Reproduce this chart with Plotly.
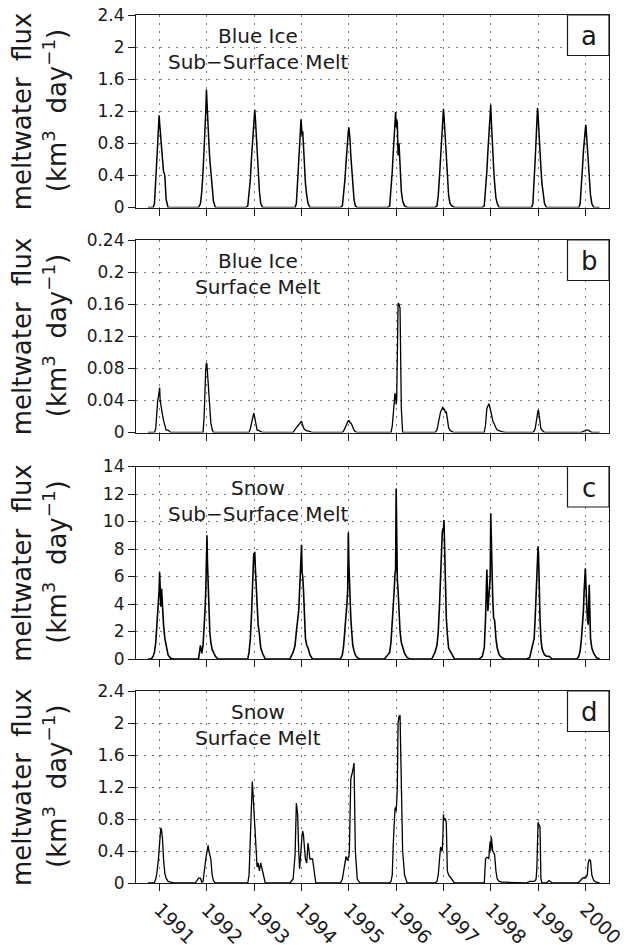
import plotly.graph_objects as go
from plotly.subplots import make_subplots

# ---------------- data ----------------
years = [1991, 1992, 1993, 1994, 1995, 1996, 1997, 1998, 1999, 2000]
year_labels = ["1991", "1992", "1993", "1994", "1995", "1996", "1997", "1998", "1999", "2000"]
# day offsets relative to 1 January of each melt season's year
day_offsets = [-90, -65, -50, -40, -30, -22, -15, -9, -4, 0, 4, 9, 15, 22, 30, 40, 50, 65, 85, 110]

blue_ice_subsurface = [
    [0, 0, 0, 0.05, 0.3, 0.55, 0.8, 1.0, 1.15, 1.05, 0.95, 0.8, 0.65, 0.6, 0.45, 0.4, 0.1, 0, 0, 0],
    [0, 0, 0.05, 0.2, 0.45, 0.7, 0.95, 1.2, 1.47, 1.3, 1.1, 1.0, 0.8, 0.6, 0.45, 0.25, 0.08, 0, 0, 0],
    [0, 0, 0.02, 0.15, 0.35, 0.6, 0.8, 1.0, 1.1, 1.15, 1.22, 1.1, 0.9, 0.65, 0.4, 0.2, 0.05, 0, 0, 0],
    [0, 0, 0, 0.05, 0.3, 0.55, 0.8, 0.95, 1.1, 1.0, 0.9, 0.95, 0.7, 0.5, 0.3, 0.15, 0.05, 0, 0, 0],
    [0, 0, 0.02, 0.15, 0.35, 0.55, 0.75, 0.88, 0.95, 1.0, 0.95, 0.85, 0.65, 0.45, 0.25, 0.1, 0.02, 0, 0, 0],
    [0, 0, 0.02, 0.2, 0.45, 0.7, 0.9, 1.05, 1.19, 1.0, 1.1, 1.05, 0.65, 0.8, 0.45, 0.2, 0.08, 0.02, 0, 0],
    [0, 0, 0.02, 0.15, 0.4, 0.65, 0.9, 1.1, 1.2, 1.23, 1.15, 1.0, 0.8, 0.55, 0.35, 0.15, 0.05, 0.02, 0, 0],
    [0, 0, 0.02, 0.2, 0.45, 0.7, 0.9, 1.05, 1.15, 1.28, 1.1, 0.9, 0.7, 0.5, 0.3, 0.12, 0.05, 0, 0, 0],
    [0, 0, 0, 0.05, 0.3, 0.6, 0.85, 1.05, 1.24, 1.15, 1.0, 0.9, 0.7, 0.5, 0.3, 0.15, 0.05, 0, 0, 0],
    [0, 0, 0, 0.05, 0.25, 0.5, 0.7, 0.85, 0.95, 0.98, 1.03, 0.9, 0.7, 0.5, 0.3, 0.15, 0.05, 0, 0, 0],
]

blue_ice_surface = [
    [0, 0, 0, 0, 0.005, 0.03, 0.04, 0.045, 0.05, 0.056, 0.04, 0.033, 0.03, 0.022, 0.015, 0.008, 0.003, 0.003, 0, 0],
    [0, 0, 0, 0, 0, 0.02, 0.06, 0.08, 0.087, 0.085, 0.075, 0.06, 0.045, 0.028, 0.012, 0.004, 0, 0, 0, 0],
    [0, 0, 0, 0, 0.005, 0.012, 0.018, 0.022, 0.024, 0.022, 0.018, 0.012, 0.006, 0.003, 0.003, 0.002, 0.002, 0, 0, 0],
    [0, 0, 0.004, 0.006, 0.007, 0.009, 0.01, 0.012, 0.013, 0.014, 0.012, 0.008, 0.006, 0.004, 0.003, 0.002, 0.002, 0.001, 0, 0],
    [0, 0, 0, 0.002, 0.006, 0.01, 0.012, 0.013, 0.015, 0.014, 0.015, 0.012, 0.012, 0.01, 0.006, 0.003, 0.001, 0, 0, 0],
    [0, 0, 0, 0, 0.008, 0.025, 0.04, 0.049, 0.045, 0.035, 0.04, 0.1, 0.161, 0.16, 0.155, 0.03, 0, 0, 0, 0],
    [0, 0, 0.003, 0.012, 0.022, 0.026, 0.028, 0.03, 0.032, 0.028, 0.03, 0.028, 0.025, 0.026, 0.015, 0.006, 0.003, 0.001, 0, 0],
    [0, 0, 0, 0.01, 0.03, 0.033, 0.036, 0.033, 0.03, 0.028, 0.026, 0.02, 0.015, 0.012, 0.008, 0.006, 0.003, 0.002, 0.001, 0],
    [0, 0, 0, 0, 0.002, 0.005, 0.012, 0.02, 0.026, 0.028, 0.027, 0.02, 0.01, 0.005, 0.003, 0.001, 0, 0, 0, 0],
    [0, 0, 0, 0, 0, 0.001, 0.001, 0.002, 0.002, 0.002, 0.003, 0.003, 0.003, 0.003, 0.002, 0.001, 0, 0, 0, 0],
]

snow_subsurface = [
    [0, 0, 0.2, 0.5, 1.2, 2.3, 3.2, 4.2, 5.0, 6.3, 4.5, 3.8, 5.1, 3.5, 2.5, 1.5, 0.9, 0.3, 0.05, 0],
    [0, 0, 1.0, 0.4, 1.0, 2.0, 3.5, 5.0, 7.0, 9.0, 7.0, 5.5, 3.5, 2.0, 1.2, 0.7, 0.5, 0.2, 0, 0],
    [0, 0, 0, 0.5, 1.5, 3.0, 5.0, 7.0, 7.7, 7.5, 7.8, 6.5, 5.0, 3.5, 2.5, 1.8, 0.8, 0.4, 0, 0],
    [0, 0.5, 1.0, 2.0, 3.0, 3.5, 5.0, 6.2, 6.5, 8.3, 6.3, 6.0, 5.0, 3.0, 1.5, 1.0, 0.8, 0.3, 0, 0],
    [0, 0, 0.3, 1.0, 2.2, 3.0, 4.0, 5.0, 9.2, 7.0, 5.5, 5.0, 3.0, 2.0, 1.0, 0.6, 0.3, 0.1, 0, 0],
    [0, 0.3, 0.5, 1.2, 2.5, 3.5, 5.0, 6.2, 6.5, 12.4, 6.5, 5.8, 5.0, 3.0, 2.0, 1.2, 0.9, 0.4, 0.1, 0],
    [0, 0.5, 1.0, 2.0, 4.0, 6.5, 8.5, 9.2, 9.5, 9.3, 10.1, 8.0, 5.0, 3.0, 1.8, 0.8, 0.6, 0.3, 0, 0],
    [0, 0.2, 0.8, 3.0, 6.5, 3.5, 4.5, 5.0, 6.0, 10.6, 8.6, 6.0, 4.5, 3.0, 2.8, 1.5, 0.8, 0.3, 0.1, 0],
    [0, 0.1, 0.8, 1.0, 1.5, 3.0, 4.5, 6.5, 7.0, 8.2, 7.5, 5.0, 3.0, 1.5, 0.8, 0.5, 0.3, 0.2, 0.2, 0],
    [0, 0, 0.2, 0.6, 1.5, 2.5, 3.5, 5.0, 6.0, 6.6, 5.5, 4.0, 3.0, 2.5, 5.4, 1.5, 0.8, 0.4, 0.1, 0],
]

snow_surface = [
    [0, 0, 0, 0.01, 0.05, 0.12, 0.2, 0.3, 0.42, 0.55, 0.62, 0.69, 0.66, 0.55, 0.3, 0.12, 0.06, 0.02, 0.01, 0],
    [0, 0.06, 0.06, 0.01, 0.02, 0.15, 0.28, 0.3, 0.35, 0.4, 0.44, 0.47, 0.4, 0.35, 0.3, 0.1, 0.03, 0, 0, 0],
    [0, 0, 0, 0.1, 0.5, 0.9, 1.27, 1.1, 0.95, 0.85, 0.65, 0.45, 0.35, 0.2, 0.25, 0.15, 0.25, 0.15, 0, 0],
    [0, 0.05, 0.35, 1.0, 0.85, 0.4, 0.18, 0.3, 0.5, 0.55, 0.6, 0.65, 0.6, 0.45, 0.3, 0.25, 0.5, 0.3, 0.3, 0],
    [0, 0, 0.05, 0.15, 0.28, 0.33, 0.3, 0.28, 0.33, 0.32, 0.4, 0.9, 1.3, 1.35, 1.4, 1.5, 0.4, 0.05, 0, 0],
    [0, 0, 0, 0.02, 0.1, 0.5, 0.9, 0.92, 0.95, 0.9, 1.0, 1.2, 2.0, 2.08, 2.1, 1.4, 0.4, 0.1, 0, 0],
    [0, 0, 0.02, 0.1, 0.3, 0.45, 0.42, 0.4, 0.6, 0.86, 0.78, 0.8, 0.8, 0.75, 0.15, 0.1, 0.08, 0.04, 0, 0],
    [0, 0, 0, 0.3, 0.32, 0.32, 0.3, 0.45, 0.52, 0.4, 0.58, 0.5, 0.4, 0.38, 0.35, 0.15, 0.05, 0.02, 0.01, 0.01],
    [0, 0.02, 0.02, 0.02, 0.02, 0.03, 0.05, 0.2, 0.7, 0.76, 0.74, 0.72, 0.7, 0.05, 0, 0, 0, 0, 0.03, 0],
    [0, 0, 0.01, 0.03, 0.05, 0.06, 0.06, 0.07, 0.06, 0.06, 0.07, 0.08, 0.1, 0.25, 0.29, 0.28, 0.1, 0.03, 0.01, 0],
]

panel_titles = [("Blue Ice", "Sub\u2212Surface Melt"), ("Blue Ice", "Surface Melt"),
                ("Snow", "Sub\u2212Surface Melt"), ("Snow", "Surface Melt")]
panel_letters = ["a", "b", "c", "d"]
y_tickvals = [[0, 0.4, 0.8, 1.2, 1.6, 2.0, 2.4],
              [0, 0.04, 0.08, 0.12, 0.16, 0.2, 0.24],
              [0, 2, 4, 6, 8, 10, 12, 14],
              [0, 0.4, 0.8, 1.2, 1.6, 2.0, 2.4]]
y_ticktext = [["0", "0.4", "0.8", "1.2", "1.6", "2", "2.4"],
              ["0", "0.04", "0.08", "0.12", "0.16", "0.2", "0.24"],
              ["0", "2", "4", "6", "8", "10", "12", "14"],
              ["0", "0.4", "0.8", "1.2", "1.6", "2", "2.4"]]
y_ranges = [[0, 2.4], [0, 0.24], [0, 14], [0, 2.4]]
all_series = [blue_ice_subsurface, blue_ice_surface, snow_subsurface, snow_surface]

# ---------------- figure ----------------
# The page body has an 8px margin, so the figure is made 8px smaller and all
# reference pixel positions are shifted by OFF.
OFF = 8
W, H = 628 - OFF, 945 - OFF
ML, MR, MT, MB = 136 - OFF, 19, 15 - OFF, 62
PW, PH = W - ML - MR, H - MT - MB
FONT = "DejaVu Sans"
INK = "#1a1a1a"

# panel top/bottom in reference (window) pixels
panel_top = [15, 240, 466.5, 691]
panel_bot = [207.5, 432.5, 659, 883]


def py(p):  # reference pixel y -> paper y
    return (H - MB - (p - OFF)) / PH


def px(p):  # reference pixel x -> paper x
    return ((p - OFF) - ML) / PW


fig = make_subplots(rows=4, cols=1)


def season_xy(rows):
    xs, ys = [], []
    for yr, row in zip(years, rows):
        for d, v in zip(day_offsets, row):
            xs.append(yr + d / 365.25)
            ys.append(v)
    return xs, ys


line_widths = [1.5, 1.3, 1.6, 1.3]
for i, rows in enumerate(all_series):
    xs, ys = season_xy(rows)
    fig.add_trace(go.Scatter(x=xs, y=ys, mode="lines",
                             line=dict(color="black", width=line_widths[i]),
                             showlegend=False, hoverinfo="skip"),
                  row=i + 1, col=1)

grid_common = dict(showgrid=True, gridcolor="#777777", gridwidth=1, griddash="2px,6px",
                   showline=True, linecolor=INK, linewidth=1.2, mirror=True,
                   zeroline=False, ticks="outside", ticklen=7, tickwidth=1, tickcolor=INK,
                   automargin=False, ticklabeloverflow="allow")

for i in range(4):
    n = "" if i == 0 else str(i + 1)
    fig.layout["xaxis" + n].update(
        domain=[0, 1], range=[1990.5, 2000.5],
        tickvals=years, ticktext=year_labels, tickangle=45,
        showticklabels=(i == 3),
        tickfont=dict(family=FONT, size=19, color=INK),
        **grid_common)
    fig.layout["yaxis" + n].update(
        domain=[py(panel_bot[i]), py(panel_top[i])],
        range=y_ranges[i], tickvals=y_tickvals[i], ticktext=y_ticktext[i],
        tickfont=dict(family=FONT, size=17, color=INK),
        **grid_common)

    # panel titles
    t1, t2 = panel_titles[i]
    fig.add_annotation(xref="paper", yref="paper", x=px(258), y=py(panel_top[i] + 21),
                       text=t1, showarrow=False, xanchor="center", yanchor="middle",
                       font=dict(family=FONT, size=20, color=INK))
    fig.add_annotation(xref="paper", yref="paper", x=px(258), y=py(panel_top[i] + 47),
                       text=t2, showarrow=False, xanchor="center", yanchor="middle",
                       font=dict(family=FONT, size=20, color=INK))

    # letter box
    fig.add_shape(type="rect", xref="paper", yref="paper",
                  x0=px(567.5), x1=1.0, y0=py(panel_top[i] + 40.5), y1=py(panel_top[i]),
                  line=dict(color=INK, width=1.2), fillcolor="white", layer="above")
    fig.add_annotation(xref="paper", yref="paper", x=px(589), y=py(panel_top[i] + 21),
                       text=panel_letters[i], showarrow=False, xanchor="center", yanchor="middle",
                       font=dict(family=FONT, size=26, color=INK))

    # y-axis titles (two lines)
    ymid = py((panel_top[i] + panel_bot[i]) / 2)
    fig.add_annotation(xref="paper", yref="paper", x=px(22), y=ymid,
                       text="meltwater\u00a0\u00a0flux", textangle=-90, showarrow=False,
                       xanchor="center", yanchor="middle",
                       font=dict(family=FONT, size=26, color=INK))
    fig.add_annotation(xref="paper", yref="paper", x=px(55), y=ymid,
                       text="(km<sup>3</sup>\u00a0\u00a0day<sup>\u22121</sup>)", textangle=-90,
                       showarrow=False, xanchor="center", yanchor="middle",
                       font=dict(family=FONT, size=26, color=INK))

fig.update_layout(width=W, height=H, margin=dict(l=ML, r=MR, t=MT, b=MB, autoexpand=False),
                  paper_bgcolor="white", plot_bgcolor="white", showlegend=False)

fig.write_html("out.html")
